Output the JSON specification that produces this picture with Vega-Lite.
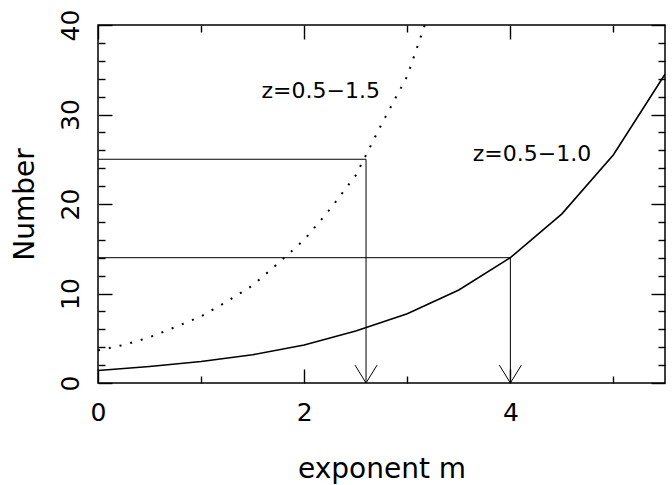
{
  "$schema": "https://vega.github.io/schema/vega-lite/v6.json",
  "width": 567,
  "height": 358,
  "autosize": "none",
  "padding": {"left": 98, "top": 25, "right": 7, "bottom": 102},
  "background": "white",
  "config": {
    "view": {"stroke": "black", "strokeWidth": 1.5},
    "axis": {
      "grid": false,
      "domain": false,
      "labelFont": "DejaVu Sans",
      "labelFontSize": 25,
      "labelColor": "black",
      "labelFlush": false,
      "labelOverlap": false,
      "labelBound": false,
      "titleFont": "DejaVu Sans",
      "titleFontSize": 28,
      "titleFontWeight": "normal",
      "titleColor": "black",
      "tickColor": "black",
      "tickWidth": 1.4
    }
  },
  "datasets": {
    "solid": [
      {"m": 0.0, "n": 1.4},
      {"m": 0.5, "n": 1.85},
      {"m": 1.0, "n": 2.4},
      {"m": 1.5, "n": 3.15},
      {"m": 2.0, "n": 4.25},
      {"m": 2.5, "n": 5.8},
      {"m": 3.0, "n": 7.75},
      {"m": 3.5, "n": 10.4},
      {"m": 4.0, "n": 14.0},
      {"m": 4.5, "n": 18.9},
      {"m": 5.0, "n": 25.5},
      {"m": 5.5, "n": 34.5}
    ],
    "dotted": [
      {"m": 0.0, "n": 3.65},
      {"m": 0.25, "n": 4.25},
      {"m": 0.5, "n": 5.1},
      {"m": 0.75, "n": 6.25},
      {"m": 1.0, "n": 7.45},
      {"m": 1.25, "n": 9.1},
      {"m": 1.5, "n": 10.9},
      {"m": 1.75, "n": 13.4},
      {"m": 2.0, "n": 16.0},
      {"m": 2.25, "n": 19.4},
      {"m": 2.5, "n": 23.2},
      {"m": 2.75, "n": 28.9},
      {"m": 3.0, "n": 34.3},
      {"m": 3.17, "n": 40.0}
    ],
    "guides": [
      {"g": "a", "k": 1, "m": 0.0, "n": 25},
      {"g": "a", "k": 2, "m": 2.6, "n": 25},
      {"g": "a", "k": 3, "m": 2.6, "n": 0},
      {"g": "b", "k": 1, "m": 0.0, "n": 14},
      {"g": "b", "k": 2, "m": 4.0, "n": 14},
      {"g": "b", "k": 3, "m": 4.0, "n": 0},
      {"g": "ha", "k": 1, "m": 2.493, "n": 2.0},
      {"g": "ha", "k": 2, "m": 2.6, "n": 0},
      {"g": "ha", "k": 3, "m": 2.707, "n": 2.0},
      {"g": "hb", "k": 1, "m": 3.893, "n": 2.0},
      {"g": "hb", "k": 2, "m": 4.0, "n": 0},
      {"g": "hb", "k": 3, "m": 4.107, "n": 2.0}
    ],
    "labels": [
      {"m": 2.16, "n": 32.6, "t": "z=0.5−1.5"},
      {"m": 4.21, "n": 25.6, "t": "z=0.5−1.0"}
    ]
  },
  "resolve": {"axis": {"x": "independent", "y": "independent"}},
  "layer": [
    {
      "data": {"name": "solid"},
      "mark": {"type": "line", "color": "black", "strokeWidth": 1.6, "clip": true},
      "encoding": {
        "x": {
          "field": "m", "type": "quantitative",
          "scale": {"domain": [0, 5.5], "nice": false, "zero": false},
          "axis": {"orient": "bottom", "values": [0, 2, 4], "ticks": false, "labelPadding": 37, "labelBaseline": "alphabetic", "title": "exponent m", "titleBaseline": "alphabetic", "titleY": 94, "titleX": 283.5, "titleAnchor": "middle"}
        },
        "y": {
          "field": "n", "type": "quantitative",
          "scale": {"domain": [0, 40], "nice": false, "zero": false},
          "axis": {"orient": "left", "values": [0, 10, 20, 30, 40], "ticks": false, "labelAngle": -90, "labelAlign": "center", "labelBaseline": "alphabetic", "labelPadding": 20, "title": "Number", "titleBaseline": "alphabetic", "titleAngle": -90, "titleX": -65, "titleY": 179, "titleAlign": "center"}
        }
      }
    },
    {
      "data": {"name": "dotted"},
      "mark": {"type": "line", "color": "black", "strokeWidth": 2, "strokeDash": [2, 9], "clip": true},
      "encoding": {
        "x": {"field": "m", "type": "quantitative", "axis": {"orient": "bottom", "values": [0, 2, 4], "tickSize": -14, "labels": false, "title": null}},
        "y": {"field": "n", "type": "quantitative", "axis": {"orient": "left", "values": [0, 10, 20, 30, 40], "tickSize": -14, "labels": false, "title": null}}
      }
    },
    {
      "data": {"name": "guides"},
      "mark": {"type": "line", "color": "black", "strokeWidth": 1},
      "encoding": {
        "x": {"field": "m", "type": "quantitative", "axis": {"orient": "bottom", "values": [1, 3, 5], "tickSize": -7, "labels": false, "title": null}},
        "y": {"field": "n", "type": "quantitative", "axis": {"orient": "left", "values": [2, 4, 6, 8, 12, 14, 16, 18, 22, 24, 26, 28, 32, 34, 36, 38], "tickSize": -7, "labels": false, "title": null}},
        "detail": {"field": "g"},
        "order": {"field": "k"}
      }
    },
    {
      "data": {"name": "labels"},
      "mark": {"type": "text", "color": "black", "font": "DejaVu Sans", "fontSize": 22, "align": "center", "baseline": "middle"},
      "encoding": {
        "x": {"field": "m", "type": "quantitative", "axis": {"orient": "top", "values": [0, 2, 4], "tickSize": -14, "labels": false, "title": null}},
        "y": {"field": "n", "type": "quantitative", "axis": {"orient": "right", "values": [0, 10, 20, 30, 40], "tickSize": -14, "labels": false, "title": null}},
        "text": {"field": "t"}
      }
    },
    {
      "data": {"name": "labels"},
      "mark": {"type": "point", "opacity": 0},
      "encoding": {
        "x": {"field": "m", "type": "quantitative", "axis": {"orient": "top", "values": [1, 3, 5], "tickSize": -7, "labels": false, "title": null}},
        "y": {"field": "n", "type": "quantitative", "axis": {"orient": "right", "values": [2, 4, 6, 8, 12, 14, 16, 18, 22, 24, 26, 28, 32, 34, 36, 38], "tickSize": -7, "labels": false, "title": null}}
      }
    }
  ]
}
